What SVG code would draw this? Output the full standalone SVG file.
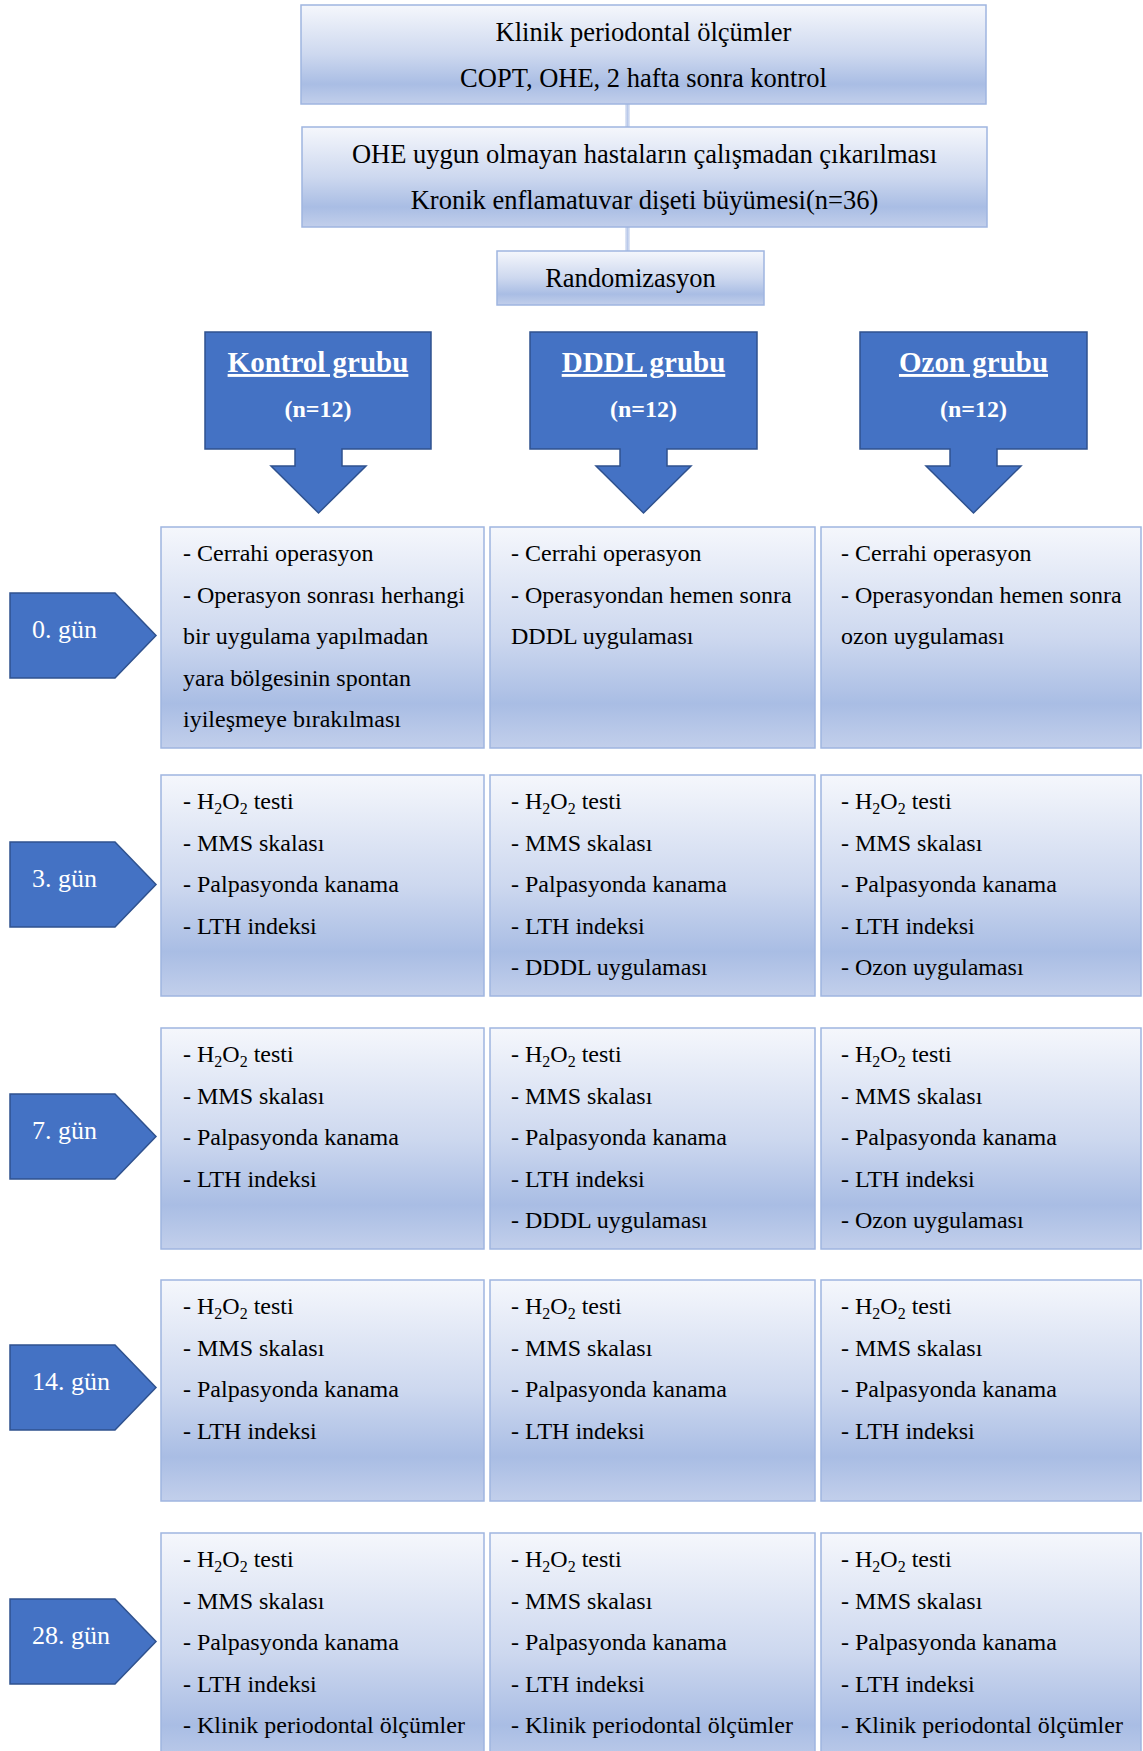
<svg xmlns="http://www.w3.org/2000/svg" width="1143" height="1751" viewBox="0 0 1143 1751">
<defs>
<linearGradient id="gv" x1="0" y1="0" x2="0" y2="1">
<stop offset="0" stop-color="#F5F7FC"/>
<stop offset="0.5" stop-color="#CDD8EF"/>
<stop offset="0.8" stop-color="#A9BDE4"/>
<stop offset="1" stop-color="#C2CFEB"/>
</linearGradient>
<linearGradient id="gc" x1="0" y1="0" x2="1" y2="0">
<stop offset="0" stop-color="#E3E9F6"/>
<stop offset="0.5" stop-color="#B9C9EA"/>
<stop offset="1" stop-color="#E3E9F6"/>
</linearGradient>
<style>
.box{fill:url(#gv);stroke:#9FB5E0;stroke-width:1.5}
.blue{fill:#4472C4;stroke:#2F528F;stroke-width:1.5}
.t{font-family:"Liberation Serif","Times New Roman",serif;font-size:24px;fill:#000}
.h{font-family:"Liberation Serif","Times New Roman",serif;font-size:26.5px;fill:#000;text-anchor:middle}
.g{font-family:"Liberation Serif","Times New Roman",serif;font-weight:bold;fill:#fff;text-anchor:middle}
.d{font-family:"Liberation Serif","Times New Roman",serif;font-size:26px;fill:#fff}
.s{font-size:16px}
</style>
</defs>
<rect width="1143" height="1751" fill="#fff"/>
<g id="connectors">
<rect x="625" y="104" width="5" height="23" fill="url(#gc)"/>
<rect x="625" y="227" width="5" height="24" fill="url(#gc)"/>
</g>
<g id="n-top1">
<rect class="box" x="301" y="5" width="685" height="99"/>
<text class="h" x="643.5" y="41">Klinik periodontal ölçümler</text>
<text class="h" x="643.5" y="87">COPT, OHE, 2 hafta sonra kontrol</text>
</g>
<g id="n-top2">
<rect class="box" x="302" y="127" width="685" height="100"/>
<text class="h" x="644.5" y="163">OHE uygun olmayan hastaların çalışmadan çıkarılması</text>
<text class="h" x="644.5" y="209">Kronik enflamatuvar dişeti büyümesi(n=36)</text>
</g>
<g id="n-random">
<rect class="box" x="497" y="251" width="267" height="54"/>
<text class="h" x="630.5" y="287">Randomizasyon</text>
</g>
<g id="n-kontrol">
<path class="blue" d="M205,332 H431 V449 H342 V466 H366 L318.5,513 L271,466 H295 V449 H205 Z"/>
<text class="g" x="318" y="372" font-size="29" text-decoration="underline">Kontrol grubu</text>
<text class="g" x="318" y="417" font-size="24">(n=12)</text>
</g>
<g id="n-dddl">
<path class="blue" d="M530,332 H757 V449 H667 V466 H691 L643.5,513 L596,466 H620 V449 H530 Z"/>
<text class="g" x="643.5" y="372" font-size="29" text-decoration="underline">DDDL grubu</text>
<text class="g" x="643.5" y="417" font-size="24">(n=12)</text>
</g>
<g id="n-ozon">
<path class="blue" d="M860,332 H1087 V449 H997 V466 H1021 L973.5,513 L926,466 H950 V449 H860 Z"/>
<text class="g" x="973.5" y="372" font-size="29" text-decoration="underline">Ozon grubu</text>
<text class="g" x="973.5" y="417" font-size="24">(n=12)</text>
</g>
<g id="n-day0">
<path class="blue" d="M10,593 H115 L156,635.5 L115,678 H10 Z"/>
<text class="d" x="32" y="638">0. gün</text>
</g>
<g id="n-day3">
<path class="blue" d="M10,842 H115 L156,884.5 L115,927 H10 Z"/>
<text class="d" x="32" y="887">3. gün</text>
</g>
<g id="n-day7">
<path class="blue" d="M10,1094 H115 L156,1136.5 L115,1179 H10 Z"/>
<text class="d" x="32" y="1139">7. gün</text>
</g>
<g id="n-day14">
<path class="blue" d="M10,1345 H115 L156,1387.5 L115,1430 H10 Z"/>
<text class="d" x="32" y="1390">14. gün</text>
</g>
<g id="n-day28">
<path class="blue" d="M10,1599 H115 L156,1641.5 L115,1684 H10 Z"/>
<text class="d" x="32" y="1644">28. gün</text>
</g>
<g id="r0c1">
<rect class="box" x="161" y="527" width="323" height="221"/>
<text class="t" x="183" y="561">- Cerrahi operasyon</text>
<text class="t" x="183" y="602.5">- Operasyon sonrası herhangi</text>
<text class="t" x="183" y="644">bir uygulama yapılmadan</text>
<text class="t" x="183" y="685.5">yara bölgesinin spontan</text>
<text class="t" x="183" y="727">iyileşmeye bırakılması</text>
</g>
<g id="r0c2">
<rect class="box" x="490" y="527" width="325" height="221"/>
<text class="t" x="511" y="561">- Cerrahi operasyon</text>
<text class="t" x="511" y="602.5">- Operasyondan hemen sonra</text>
<text class="t" x="511" y="644">DDDL uygulaması</text>
</g>
<g id="r0c3">
<rect class="box" x="821" y="527" width="320" height="221"/>
<text class="t" x="841" y="561">- Cerrahi operasyon</text>
<text class="t" x="841" y="602.5">- Operasyondan hemen sonra</text>
<text class="t" x="841" y="644">ozon uygulaması</text>
</g>
<g id="r1c1">
<rect class="box" x="161" y="775" width="323" height="221"/>
<text class="t" x="183" y="809">- H<tspan class="s" dy="5">2</tspan><tspan dy="-5">O</tspan><tspan class="s" dy="5">2</tspan><tspan dy="-5"> testi</tspan></text>
<text class="t" x="183" y="850.5">- MMS skalası</text>
<text class="t" x="183" y="892">- Palpasyonda kanama</text>
<text class="t" x="183" y="933.5">- LTH indeksi</text>
</g>
<g id="r1c2">
<rect class="box" x="490" y="775" width="325" height="221"/>
<text class="t" x="511" y="809">- H<tspan class="s" dy="5">2</tspan><tspan dy="-5">O</tspan><tspan class="s" dy="5">2</tspan><tspan dy="-5"> testi</tspan></text>
<text class="t" x="511" y="850.5">- MMS skalası</text>
<text class="t" x="511" y="892">- Palpasyonda kanama</text>
<text class="t" x="511" y="933.5">- LTH indeksi</text>
<text class="t" x="511" y="975">- DDDL uygulaması</text>
</g>
<g id="r1c3">
<rect class="box" x="821" y="775" width="320" height="221"/>
<text class="t" x="841" y="809">- H<tspan class="s" dy="5">2</tspan><tspan dy="-5">O</tspan><tspan class="s" dy="5">2</tspan><tspan dy="-5"> testi</tspan></text>
<text class="t" x="841" y="850.5">- MMS skalası</text>
<text class="t" x="841" y="892">- Palpasyonda kanama</text>
<text class="t" x="841" y="933.5">- LTH indeksi</text>
<text class="t" x="841" y="975">- Ozon uygulaması</text>
</g>
<g id="r2c1">
<rect class="box" x="161" y="1028" width="323" height="221"/>
<text class="t" x="183" y="1062">- H<tspan class="s" dy="5">2</tspan><tspan dy="-5">O</tspan><tspan class="s" dy="5">2</tspan><tspan dy="-5"> testi</tspan></text>
<text class="t" x="183" y="1103.5">- MMS skalası</text>
<text class="t" x="183" y="1145">- Palpasyonda kanama</text>
<text class="t" x="183" y="1186.5">- LTH indeksi</text>
</g>
<g id="r2c2">
<rect class="box" x="490" y="1028" width="325" height="221"/>
<text class="t" x="511" y="1062">- H<tspan class="s" dy="5">2</tspan><tspan dy="-5">O</tspan><tspan class="s" dy="5">2</tspan><tspan dy="-5"> testi</tspan></text>
<text class="t" x="511" y="1103.5">- MMS skalası</text>
<text class="t" x="511" y="1145">- Palpasyonda kanama</text>
<text class="t" x="511" y="1186.5">- LTH indeksi</text>
<text class="t" x="511" y="1228">- DDDL uygulaması</text>
</g>
<g id="r2c3">
<rect class="box" x="821" y="1028" width="320" height="221"/>
<text class="t" x="841" y="1062">- H<tspan class="s" dy="5">2</tspan><tspan dy="-5">O</tspan><tspan class="s" dy="5">2</tspan><tspan dy="-5"> testi</tspan></text>
<text class="t" x="841" y="1103.5">- MMS skalası</text>
<text class="t" x="841" y="1145">- Palpasyonda kanama</text>
<text class="t" x="841" y="1186.5">- LTH indeksi</text>
<text class="t" x="841" y="1228">- Ozon uygulaması</text>
</g>
<g id="r3c1">
<rect class="box" x="161" y="1280" width="323" height="221"/>
<text class="t" x="183" y="1314">- H<tspan class="s" dy="5">2</tspan><tspan dy="-5">O</tspan><tspan class="s" dy="5">2</tspan><tspan dy="-5"> testi</tspan></text>
<text class="t" x="183" y="1355.5">- MMS skalası</text>
<text class="t" x="183" y="1397">- Palpasyonda kanama</text>
<text class="t" x="183" y="1438.5">- LTH indeksi</text>
</g>
<g id="r3c2">
<rect class="box" x="490" y="1280" width="325" height="221"/>
<text class="t" x="511" y="1314">- H<tspan class="s" dy="5">2</tspan><tspan dy="-5">O</tspan><tspan class="s" dy="5">2</tspan><tspan dy="-5"> testi</tspan></text>
<text class="t" x="511" y="1355.5">- MMS skalası</text>
<text class="t" x="511" y="1397">- Palpasyonda kanama</text>
<text class="t" x="511" y="1438.5">- LTH indeksi</text>
</g>
<g id="r3c3">
<rect class="box" x="821" y="1280" width="320" height="221"/>
<text class="t" x="841" y="1314">- H<tspan class="s" dy="5">2</tspan><tspan dy="-5">O</tspan><tspan class="s" dy="5">2</tspan><tspan dy="-5"> testi</tspan></text>
<text class="t" x="841" y="1355.5">- MMS skalası</text>
<text class="t" x="841" y="1397">- Palpasyonda kanama</text>
<text class="t" x="841" y="1438.5">- LTH indeksi</text>
</g>
<g id="r4c1">
<rect class="box" x="161" y="1533" width="323" height="240"/>
<text class="t" x="183" y="1567">- H<tspan class="s" dy="5">2</tspan><tspan dy="-5">O</tspan><tspan class="s" dy="5">2</tspan><tspan dy="-5"> testi</tspan></text>
<text class="t" x="183" y="1608.5">- MMS skalası</text>
<text class="t" x="183" y="1650">- Palpasyonda kanama</text>
<text class="t" x="183" y="1691.5">- LTH indeksi</text>
<text class="t" x="183" y="1733">- Klinik periodontal ölçümler</text>
</g>
<g id="r4c2">
<rect class="box" x="490" y="1533" width="325" height="240"/>
<text class="t" x="511" y="1567">- H<tspan class="s" dy="5">2</tspan><tspan dy="-5">O</tspan><tspan class="s" dy="5">2</tspan><tspan dy="-5"> testi</tspan></text>
<text class="t" x="511" y="1608.5">- MMS skalası</text>
<text class="t" x="511" y="1650">- Palpasyonda kanama</text>
<text class="t" x="511" y="1691.5">- LTH indeksi</text>
<text class="t" x="511" y="1733">- Klinik periodontal ölçümler</text>
</g>
<g id="r4c3">
<rect class="box" x="821" y="1533" width="320" height="240"/>
<text class="t" x="841" y="1567">- H<tspan class="s" dy="5">2</tspan><tspan dy="-5">O</tspan><tspan class="s" dy="5">2</tspan><tspan dy="-5"> testi</tspan></text>
<text class="t" x="841" y="1608.5">- MMS skalası</text>
<text class="t" x="841" y="1650">- Palpasyonda kanama</text>
<text class="t" x="841" y="1691.5">- LTH indeksi</text>
<text class="t" x="841" y="1733">- Klinik periodontal ölçümler</text>
</g>
</svg>
